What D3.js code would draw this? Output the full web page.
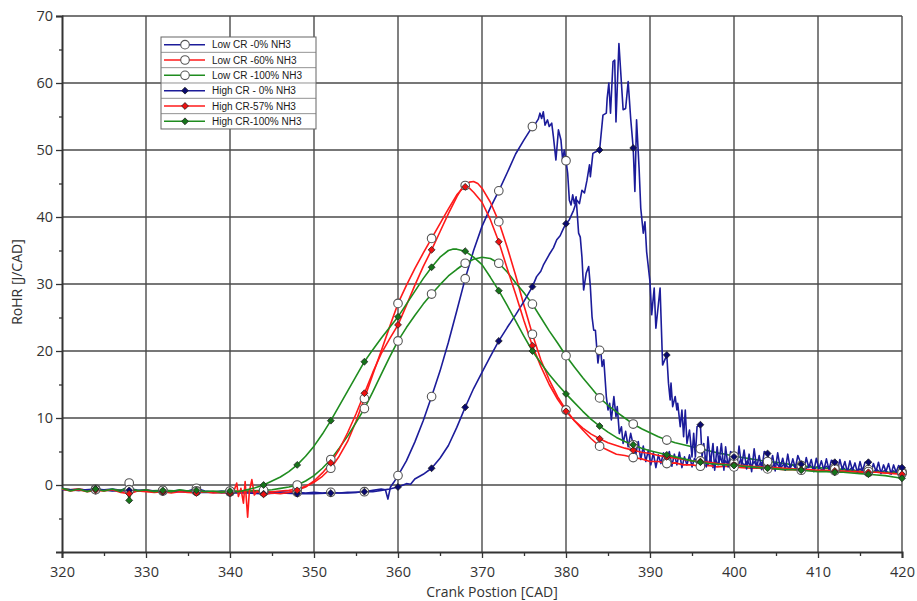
<!DOCTYPE html>
<html>
<head>
<meta charset="utf-8">
<script src="https://cdn.jsdelivr.net/npm/d3@7/dist/d3.min.js"></script>
<style>
  body { margin: 0; background: #fff; }
  svg { display: block; }
</style>
</head>
<body>
<svg id="chart" width="917" height="601"></svg>
<script>
// Axis ticks
const xTicks = [320, 330, 340, 350, 360, 370, 380, 390, 400, 410, 420];
const yTicks = [0, 10, 20, 30, 40, 50, 60, 70];
const markerCads = [324, 328, 332, 336, 340, 344, 348, 352, 356, 360, 364, 368, 372, 376, 380, 384, 388, 392, 396, 400, 404, 408, 412, 416, 420];

// Rate of heat release [J/CAD] vs crank position [CAD]
const lowCR0 = [
  [320,-0.5],[321,-0.7],[322,-0.6],[323,-0.8],[324,-0.6],[325,-0.7],[326,-0.6],[327,-0.8],[327.6,-0.5],[328,0.3],[328.4,-0.6],
  [329,-0.8],[330,-0.7],[331,-0.9],[332,-0.8],[333,-0.9],[334,-0.8],[335,-0.9],[336,-0.5],[337,-0.9],[338,-1.0],[339,-0.9],
  [340,-1.0],[341,-1.1],[342,-1.0],[343,-1.0],[344,-1.0],[345,-1.1],[346,-1.0],[347,-1.1],[348,-1.1],[349,-1.2],[350,-1.1],
  [351,-1.2],[352,-1.1],[353,-1.2],[354,-1.1],[355,-1.1],[356,-1.0],[357,-0.8],[358,-0.6],[358.5,-0.7],[358.8,-2.1],[359.1,-0.3],
  [359.5,0.4],[360,1.4],[361,3.6],[362,6.4],[363,9.6],[364,13.2],[365,17.0],[366,21.3],[367,26.0],[368,30.8],[369,35.0],
  [370,38.6],[371,41.4],[372,43.9],[373,46.6],[374,49.4],[375,51.5],[376,53.5],[376.4,54.0],[376.7,54.6],[376.9,55.5],[377.1,54.7],
  [377.3,55.7],[377.5,53.7],[377.8,54.5],[378,53.5],[378.3,54.0],[378.5,52.0],[378.8,48.5],[379.1,53.0],[379.4,51.5],[379.6,48.5],
  [379.8,50.0],[380,48.4],[380.2,46.5],[380.4,42.5],[380.6,41.8],[380.8,43.3],[381,42.0],[381.2,43.0],[381.5,37.6],[381.7,37.0],
  [381.9,34.0],[382.1,29.1],[382.4,31.6],[382.7,32.6],[382.9,29.6],[383.1,25.1],[383.3,23.1],[383.5,23.1],[383.8,18.2],[384,20.1],
  [384.1,20.6],[384.3,17.7],[384.5,18.7],[384.8,13.2],[385,11.2],[385.2,12.2],[385.4,9.7],[385.7,13.2],[385.95,10.2],[386.1,11.7],
  [386.35,7.7],[386.6,8.7],[386.8,6.2],[387.1,8.0],[387.4,5.7],[387.7,7.7],[388,6.0],[388.3,4.5],[388.6,6.5],[388.9,3.8],
  [389.2,5.8],[389.5,3.5],[389.8,5.2],[390.1,3.0],[390.4,4.8],[390.7,2.6],[391,4.5],[391.3,3.2],[391.6,4.8],[392,3.4],
  [392.3,5.0],[392.6,2.8],[392.9,4.6],[393.2,3.0],[393.5,4.9],[393.8,2.6],[394.1,4.2],[394.4,3.0],[394.7,4.5],[395,2.7],
  [395.3,4.0],[395.6,3.2],[396,3.6],[396.3,2.5],[396.6,4.3],[396.9,3.0],[397.2,4.0],[397.5,2.6],[397.8,3.8],[398.1,3.0],
  [398.4,4.2],[398.7,2.8],[399,3.6],[399.3,3.0],[399.6,3.9],[400,3.3],[400.4,2.6],[400.8,3.8],[401.2,2.9],[401.6,3.6],
  [402,2.7],[402.4,3.5],[402.8,2.6],[403.2,3.4],[403.6,2.8],[404,3.1],[404.5,2.6],[405,3.4],[405.5,2.5],[406,3.2],
  [406.5,2.6],[407,3.0],[407.5,2.4],[408,2.9],[408.5,2.3],[409,3.0],[409.5,2.3],[410,2.8],[410.5,2.2],[411,2.8],
  [411.5,2.2],[412,2.6],[412.5,2.1],[413,2.6],[413.5,2.0],[414,2.5],[414.5,2.0],[415,2.4],[415.5,1.9],[416,2.3],
  [416.5,1.9],[417,2.3],[417.5,1.8],[418,2.2],[418.5,1.7],[419,2.1],[419.5,1.7],[420,2.0]
];

const lowCR60 = [
  [320,-0.6],[321,-0.7],[322,-0.6],[323,-0.8],[324,-0.7],[325,-0.8],[326,-0.7],[327,-0.9],[328,-0.8],[329,-0.9],[330,-0.8],
  [331,-0.9],[332,-0.9],[333,-1.0],[334,-0.9],[335,-1.0],[336,-0.9],[337,-1.0],[338,-1.0],[339,-1.1],[340,-1.0],[341,-1.1],
  [342,-1.0],[343,-1.1],[344,-1.0],[345,-1.0],[346,-0.9],[347,-0.8],[348,-0.6],[349,-0.2],[350,0.4],[351,1.3],[352,2.5],
  [353,4.3],[354,6.5],[355,9.5],[356,12.9],[357,16.5],[358,20.0],[359,23.6],[360,27.1],[361,29.8],[362,32.3],[363,34.6],
  [364,36.8],[365,39.0],[366,41.2],[367,43.3],[368,44.7],[368.5,45.2],[369,45.3],[369.5,45.0],[370,44.3],[371,42.2],
  [372,39.3],[373,35.5],[374,31.3],[375,26.8],[376,22.5],[377,18.7],[378,15.7],[379,13.2],[380,11.2],[381,9.6],[382,8.2],
  [383,6.9],[384,5.8],[385,5.2],[386,4.6],[387,4.4],[388,4.1],[389,3.9],[390,3.5],[391,3.5],[392,3.2],[393,3.3],[394,3.0],
  [395,3.0],[396,2.8],[397,2.9],[398,2.7],[399,2.8],[400,2.7],[401,2.6],[402,2.5],[403,2.5],[404,2.4],[405,2.4],[406,2.3],
  [407,2.3],[408,2.2],[409,2.2],[410,2.1],[411,2.1],[412,2.1],[413,2.0],[414,2.0],[415,1.9],[416,1.9],[417,1.9],[418,1.8],
  [419,1.8],[420,1.7]
];

const lowCR100 = [
  [320,-0.6],[322,-0.8],[324,-0.7],[326,-0.8],[328,-0.7],[330,-0.9],[332,-0.8],[334,-0.9],[336,-0.9],[338,-1.0],[340,-0.9],
  [342,-0.9],[344,-0.8],[345,-0.7],[346,-0.5],[347,-0.3],[348,0.0],[349,0.6],[350,1.4],[351,2.5],[352,3.8],[353,5.5],
  [354,7.3],[355,9.3],[356,11.4],[357,13.9],[358,16.5],[359,19.1],[360,21.5],[361,23.5],[362,25.3],[363,27.0],[364,28.5],
  [365,29.9],[366,31.2],[367,32.2],[368,33.1],[369,33.7],[370,34.0],[371,33.8],[372,33.1],[373,31.8],[374,30.2],[375,28.7],
  [376,27.0],[377,25.0],[378,23.0],[379,21.2],[380,19.3],[381,17.6],[382,16.0],[383,14.5],[384,13.0],[385,11.9],[386,10.9],
  [387,10.0],[388,9.1],[389,8.4],[390,7.8],[391,7.2],[392,6.7],[393,6.3],[394,6.0],[395,5.7],[396,5.4],[397,5.1],[398,4.8],
  [399,4.6],[400,4.3],[401,4.1],[402,3.9],[403,3.7],[404,3.5],[405,3.4],[406,3.2],[407,3.0],[408,2.9],[409,2.7],[410,2.6],
  [411,2.5],[412,2.4],[413,2.3],[414,2.2],[415,2.1],[416,2.0],[417,2.0],[418,1.9],[419,1.9],[420,1.8]
];

const highCR0 = [
  [320,-0.7],[322,-0.8],[324,-0.6],[326,-0.9],[328,-0.8],[330,-0.9],[332,-1.0],[334,-1.0],[336,-1.1],[338,-1.1],[340,-1.2],
  [342,-1.2],[344,-1.3],[346,-1.2],[348,-1.3],[350,-1.3],[352,-1.2],[354,-1.2],[356,-1.0],[357,-1.0],[358,-0.8],[359,-0.6],
  [360,-0.3],[361,0.2],[361.5,0.1],[362,0.9],[363,1.6],[364,2.5],[365,4.0],[366,5.9],[367,8.6],[368,11.6],[369,14.4],
  [370,16.8],[371,19.2],[372,21.5],[373,23.5],[374,25.4],[375,27.4],[376,29.6],[376.5,31.1],[377,31.9],[377.3,32.8],
  [378,34.4],[378.5,35.4],[378.9,36.6],[379.3,37.2],[379.7,38.3],[380,39.0],[380.4,39.6],[380.9,41.0],[381.3,42.5],
  [381.6,42.0],[381.9,44.0],[382.2,43.6],[382.5,45.5],[382.8,47.8],[382.9,46.0],[383.2,49.5],[383.5,49.7],[384,50.0],
  [384.4,55.2],[384.8,55.5],[384.9,57.7],[385.1,60.0],[385.3,55.5],[385.6,63.2],[385.8,63.4],[385.95,54.2],[386.3,65.9],
  [386.8,56.0],[387.1,56.2],[387.4,60.2],[387.7,54.7],[388,50.3],[388.2,43.8],[388.4,54.5],[388.7,47.3],[388.9,41.3],
  [389.2,37.6],[389.4,39.3],[389.6,34.8],[390,30.3],[390.2,25.4],[390.5,29.4],[390.7,23.4],[391.2,29.4],[391.5,17.9],
  [392,19.4],[392.2,15.2],[392.4,12.7],[392.5,15.2],[392.7,11.7],[393,13.2],[393.2,11.2],[393.3,12.2],[393.6,8.7],
  [393.8,11.2],[394,7.2],[394.2,11.2],[394.4,6.2],[394.7,8.2],[395,4.2],[395.2,7.7],[395.4,4.2],[395.6,8.7],[396,9.0],
  [396.2,4.2],[396.4,6.2],[396.7,2.7],[396.9,7.2],[397.2,3.2],[397.5,6.2],[397.7,2.2],[398,5.7],[398.2,3.2],[398.5,6.2],
  [398.8,2.2],[399,5.7],[399.3,2.7],[399.6,5.0],[400,4.2],[400.3,2.2],[400.6,5.8],[400.9,2.8],[401.2,5.2],[401.5,2.4],
  [401.8,4.6],[402.1,2.0],[402.4,5.4],[402.7,2.6],[403,4.4],[403.3,2.3],[403.6,5.0],[404,4.7],[404.3,2.9],[404.6,4.4],
  [404.9,2.1],[405.2,4.8],[405.5,2.6],[405.8,4.0],[406.1,2.2],[406.4,4.6],[406.7,2.4],[407,3.9],[407.3,2.5],[407.6,4.4],
  [408,3.1],[408.3,2.1],[408.6,4.1],[408.9,2.6],[409.2,3.8],[409.5,2.0],[409.8,4.0],[410.1,2.4],[410.4,3.6],[410.7,2.2],
  [411,3.9],[411.3,2.3],[411.6,3.7],[412,3.4],[412.3,2.0],[412.6,3.8],[412.9,2.3],[413.2,3.5],[413.5,1.9],[413.8,3.6],
  [414.1,2.2],[414.4,3.3],[414.7,1.8],[415,3.5],[415.3,2.1],[415.6,3.4],[416,3.4],[416.3,1.8],[416.6,3.2],[416.9,2.0],
  [417.2,3.4],[417.5,1.7],[417.8,3.0],[418.1,2.0],[418.4,3.2],[418.7,1.6],[419,3.0],[419.3,1.9],[419.6,2.9],[420,2.6]
];

const highCR57 = [
  [320,-0.6],[321,-0.9],[322,-0.7],[323,-1.0],[324,-0.8],[325,-0.9],[326,-0.7],[327,-1.1],[328,-1.3],[329,-0.9],[330,-1.0],
  [331,-1.1],[332,-1.0],[333,-1.2],[334,-1.0],[335,-1.1],[336,-1.2],[337,-1.0],[338,-1.2],[339,-1.1],[340,-1.2],[340.5,-0.8],
  [340.8,0.3],[341,-1.7],[341.3,-0.5],[341.6,-2.7],[341.8,0.5],[342.1,-4.8],[342.3,-1.0],[342.6,0.8],[342.9,-1.5],
  [343.2,-0.9],[344,-1.4],[345,-1.2],[346,-1.3],[347,-1.1],[348,-0.8],[349,-0.3],[350,0.6],[351,1.8],[352,3.3],[353,5.3],
  [354,7.8],[355,10.6],[356,13.7],[357,16.8],[358,19.6],[359,21.8],[360,23.9],[361,26.8],[362,29.8],[363,32.6],[364,35.1],
  [365,37.8],[366,40.5],[367,43.0],[367.5,44.1],[368,44.5],[368.5,44.3],[369,43.7],[370,42.2],[371,39.6],[372,36.3],
  [373,32.3],[374,28.5],[375,24.5],[376,20.8],[377,17.7],[378,15.0],[379,12.8],[380,11.0],[381,9.6],[382,8.5],[383,7.6],
  [384,6.9],[385,6.3],[386,5.9],[387,5.5],[388,5.2],[389,4.9],[390,4.7],[391,4.4],[392,4.2],[393,4.0],[394,3.8],[395,3.6],
  [396,3.5],[397,3.4],[398,3.2],[399,3.1],[400,3.0],[401,2.9],[402,2.8],[403,2.7],[404,2.6],[405,2.6],[406,2.5],[407,2.4],
  [408,2.3],[409,2.3],[410,2.2],[411,2.2],[412,2.1],[413,2.1],[414,2.0],[415,2.0],[416,1.9],[417,1.9],[418,1.8],[419,1.7],
  [420,1.6]
];

const highCR100 = [
  [320,-0.5],[321,-0.9],[322,-0.6],[323,-1.0],[324,-0.6],[325,-0.9],[326,-0.6],[327,-1.0],[327.7,-0.3],[328,-2.3],[328.3,-0.6],
  [329,-0.9],[330,-0.7],[331,-1.0],[332,-0.8],[333,-1.0],[334,-0.7],[335,-0.9],[336,-0.8],[337,-1.0],[338,-0.9],[339,-1.1],
  [340,-0.9],[341,-1.0],[342,-0.7],[343,-0.4],[344,0.0],[345,0.6],[346,1.2],[347,2.0],[348,3.0],[349,4.3],[350,5.8],
  [351,7.6],[352,9.6],[353,11.8],[354,14.0],[355,16.2],[356,18.4],[357,20.2],[358,21.9],[359,23.5],[360,25.1],[361,27.0],
  [362,28.9],[363,30.8],[364,32.5],[365,34.0],[366,35.0],[366.5,35.2],[367,35.2],[368,34.9],[369,34.0],[370,32.9],
  [371,31.0],[372,29.0],[373,26.8],[374,24.5],[375,22.2],[376,20.0],[377,18.2],[378,16.5],[379,15.0],[380,13.6],[381,12.3],
  [382,11.0],[383,9.8],[384,8.8],[385,7.9],[386,7.1],[387,6.5],[388,6.0],[389,5.5],[390,5.1],[391,4.8],[392,4.5],[393,4.2],
  [394,3.9],[395,3.6],[396,3.4],[397,3.2],[398,3.1],[399,3.0],[400,2.9],[401,2.8],[402,2.7],[403,2.6],[404,2.5],[405,2.4],
  [406,2.3],[407,2.3],[408,2.2],[409,2.1],[410,2.0],[411,2.0],[412,1.9],[413,1.9],[414,1.8],[415,1.7],[416,1.6],[417,1.5],
  [418,1.4],[419,1.2],[420,1.0]
];

const seriesLabels = ["Low CR -0% NH3", "Low CR -60% NH3", "Low CR -100% NH3", "High CR - 0% NH3", "High CR-57% NH3", "High CR-100% NH3"];
const seriesData = [lowCR0, lowCR60, lowCR100, highCR0, highCR57, highCR100];
const seriesColors = ["#1c1c9a", "#ff1a1a", "#1f8c1f", "#1c1c9a", "#ff1a1a", "#1f8c1f"];
const markerFills = ["#ffffff", "#ffffff", "#ffffff", "#0a0a70", "#ee1111", "#16741a"];
const markerKinds = ["circle", "circle", "circle", "diamond", "diamond", "diamond"];

const svg = d3.select("#chart");
const W = 917, H = 601;
const plot = { left: 62, right: 902, top: 16, bottom: 552 };

svg.append("rect").attr("width", W).attr("height", H).attr("fill", "#fff");

const x = d3.scaleLinear().domain([320, 420]).range([plot.left, plot.right]);
const y = d3.scaleLinear().domain([-10, 70]).range([plot.bottom, plot.top]);

const fontFam = "'Open Sans', 'Noto Sans', sans-serif";

// Grid
const grid = svg.append("g").attr("stroke", "#4a4a4a").attr("stroke-width", 1.4);
xTicks.filter(t => t > 320).forEach(t => {
  grid.append("line").attr("x1", x(t)).attr("x2", x(t)).attr("y1", y(70)).attr("y2", y(-10));
});
yTicks.forEach(t => {
  grid.append("line").attr("x1", x(320)).attr("x2", x(420)).attr("y1", y(t)).attr("y2", y(t));
});

// Axes
const xAxis = d3.axisBottom(x).tickValues(xTicks).tickSize(6).tickPadding(9).tickFormat(d3.format("d"));
const xMinor = d3.axisBottom(x).tickValues(d3.range(325, 420, 10)).tickSize(4).tickFormat("");
const yAxis = d3.axisLeft(y).tickValues(yTicks).tickSize(6).tickPadding(3).tickFormat(d3.format("d"));
const yMinor = d3.axisLeft(y).tickValues(d3.range(-5, 70, 10)).tickSize(3).tickFormat("");

function styleAxis(g) {
  g.select(".domain").attr("stroke", "#333").attr("stroke-width", 2);
  g.selectAll(".tick line").attr("stroke", "#333").attr("stroke-width", 1.3);
  g.selectAll(".tick text").attr("fill", "#333").style("font-family", fontFam).style("font-size", "14.5px");
}
svg.append("g").attr("transform", `translate(0,${plot.bottom})`).call(xMinor).call(styleAxis)
  .select(".domain").remove();
svg.append("g").attr("transform", `translate(0,${plot.bottom})`).call(xAxis).call(styleAxis);
svg.append("g").attr("transform", `translate(${plot.left},0)`).call(yMinor).call(styleAxis)
  .select(".domain").remove();
svg.append("g").attr("transform", `translate(${plot.left},0)`).call(yAxis).call(styleAxis);

// Axis titles
svg.append("text").attr("x", 492).attr("y", 597).attr("text-anchor", "middle")
  .attr("fill", "#333").style("font-family", fontFam).style("font-size", "14px")
  .text("Crank Postion [CAD]");
svg.append("text").attr("transform", "translate(22,282) rotate(-90)").attr("text-anchor", "middle")
  .attr("fill", "#333").style("font-family", fontFam).style("font-size", "14px")
  .text("RoHR [J/CAD]");

// Curves
const line = d3.line().x(d => x(d[0])).y(d => y(d[1]));
const curves = svg.append("g").attr("fill", "none");
seriesData.forEach((data, i) => {
  curves.append("path").datum(data).attr("d", line)
    .attr("stroke", seriesColors[i]).attr("stroke-width", 1.6).attr("stroke-linejoin", "round");
});

// Value of a series at a crank position (linear between samples)
const bis = d3.bisector(d => d[0]).left;
function valueAt(data, cad) {
  const i = bis(data, cad);
  if (i >= data.length) return data[data.length - 1][1];
  if (data[i][0] === cad || i === 0) return data[i][1];
  const a = data[i - 1], b = data[i];
  return a[1] + (b[1] - a[1]) * (cad - a[0]) / (b[0] - a[0]);
}

// Square rotated 45 degrees
const diamond = d3.symbol().type(d3.symbolDiamond2).size(30);
function drawMarker(g, kind, cx, cy, i) {
  if (kind === "circle") {
    g.append("circle").attr("cx", cx).attr("cy", cy).attr("r", 4.3)
      .attr("fill", markerFills[i]).attr("stroke", "#555").attr("stroke-width", 1.1);
  } else {
    g.append("path").attr("d", diamond).attr("transform", `translate(${cx},${cy})`)
      .attr("fill", markerFills[i]).attr("stroke", "#222").attr("stroke-width", 0.8);
  }
}

const marks = svg.append("g");
seriesData.forEach((data, i) => {
  markerCads.forEach(c => drawMarker(marks, markerKinds[i], x(c), y(valueAt(data, c)), i));
});

// Legend
const lg = svg.append("g").attr("transform", "translate(161,37)");
const rowH = 15.33, lgW = 155;
lg.append("rect").attr("width", lgW).attr("height", rowH * 6).attr("fill", "#fff")
  .attr("stroke", "#666").attr("stroke-width", 1);
seriesLabels.forEach((lab, i) => {
  const cy = rowH * i + rowH / 2;
  if (i > 0) lg.append("line").attr("x1", 0).attr("x2", lgW).attr("y1", rowH * i).attr("y2", rowH * i)
    .attr("stroke", "#777").attr("stroke-width", 0.8);
  lg.append("line").attr("x1", 3).attr("x2", 44).attr("y1", cy).attr("y2", cy)
    .attr("stroke", seriesColors[i]).attr("stroke-width", 1.5);
  drawMarker(lg, markerKinds[i], 24, cy, i);
  lg.append("text").attr("x", 51).attr("y", cy + 3.6).attr("fill", "#1a1a1a")
    .style("font-family", "'Liberation Sans', Arial, sans-serif").style("font-size", "10px")
    .text(lab);
});
</script>
</body>
</html>
